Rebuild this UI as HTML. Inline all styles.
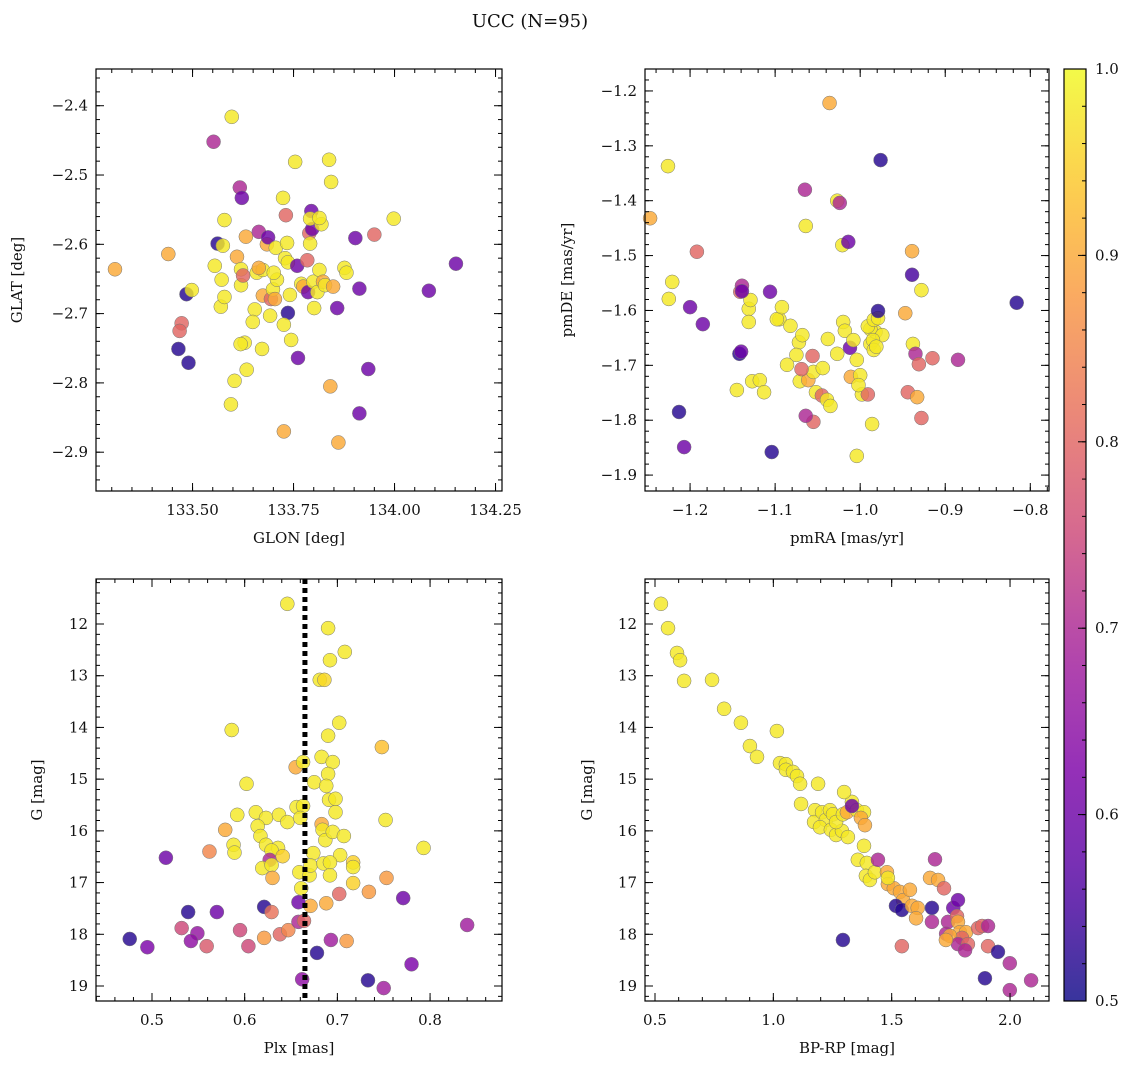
<!DOCTYPE html>
<html><head><meta charset="utf-8">
<style>
body{margin:0;background:#fff;}
svg text{font-family:"DejaVu Serif","Liberation Serif",serif;fill:#111;}
</style></head>
<body>
<svg id="fig" width="1136" height="1068" xmlns="http://www.w3.org/2000/svg">
<text x="530" y="27" font-size="18" text-anchor="middle">UCC (N=95)</text>
</svg>
<script>
// ---- data: panel 1 (GLON vs GLAT)
const glonA=[133.552,133.597,133.308,133.440,133.473,133.468,133.485,133.498,133.465,133.490,133.562,133.579,133.575,133.555,133.572,133.570,133.579,133.604,133.595,133.617,133.622,133.610,133.620,133.620,133.632,133.625,133.629,133.619,133.634,133.654,133.649,133.664,133.659,133.674,133.664,133.672,133.684,133.687,133.674,133.694,133.699,133.709,133.701,133.706,133.704,133.692,133.724,133.731,133.729,133.736,133.734,133.736,133.726,133.741,133.744,133.754,133.759,133.761,133.726,133.769,133.774,133.784,133.789,133.791,133.796,133.794,133.791,133.786,133.799,133.801,133.809,133.814,133.823,133.828,133.838,133.843,133.841,133.861,133.848,133.858,133.819,133.814,133.876,133.881,133.903,133.913,133.913,133.935,133.950,133.998,134.085,134.152];
const glatA=[-2.452,-2.416,-2.636,-2.614,-2.714,-2.725,-2.672,-2.666,-2.751,-2.771,-2.599,-2.565,-2.602,-2.631,-2.651,-2.690,-2.676,-2.797,-2.831,-2.518,-2.533,-2.618,-2.636,-2.659,-2.589,-2.645,-2.742,-2.744,-2.781,-2.694,-2.712,-2.582,-2.641,-2.637,-2.634,-2.751,-2.600,-2.590,-2.674,-2.679,-2.665,-2.651,-2.641,-2.605,-2.679,-2.703,-2.533,-2.558,-2.620,-2.626,-2.598,-2.699,-2.716,-2.673,-2.738,-2.481,-2.631,-2.764,-2.870,-2.657,-2.661,-2.623,-2.584,-2.599,-2.578,-2.552,-2.563,-2.669,-2.654,-2.692,-2.669,-2.637,-2.654,-2.659,-2.478,-2.510,-2.805,-2.886,-2.661,-2.692,-2.571,-2.562,-2.634,-2.641,-2.591,-2.664,-2.844,-2.780,-2.586,-2.563,-2.667,-2.628];
const probA=[0.7,0.98,0.9,0.9,0.8,0.8,0.52,0.98,0.52,0.52,0.52,0.98,0.98,0.98,0.98,0.98,0.98,0.98,0.98,0.7,0.6,0.9,0.98,0.98,0.9,0.8,0.98,0.98,0.98,0.98,0.98,0.7,0.98,0.98,0.9,0.98,0.9,0.6,0.9,0.8,0.98,0.98,0.98,0.98,0.9,0.98,0.98,0.8,0.98,0.98,0.98,0.52,0.98,0.98,0.98,0.98,0.6,0.6,0.9,0.98,0.9,0.8,0.8,0.98,0.6,0.6,0.98,0.6,0.98,0.98,0.98,0.98,0.9,0.98,0.98,0.98,0.9,0.9,0.9,0.6,0.98,0.98,0.98,0.98,0.6,0.6,0.6,0.6,0.8,0.98,0.6,0.6];
// ---- data: panel 2 (pmRA vs pmDE)
const pmraB=[-1.247,-1.226,-1.221,-1.225,-1.213,-1.207,-1.200,-1.192,-1.185,-1.141,-1.139,-1.131,-1.129,-1.131,-1.139,-1.106,-1.142,-1.145,-1.140,-1.127,-1.118,-1.113,-1.104,-1.095,-1.098,-1.092,-1.082,-1.072,-1.075,-1.068,-1.086,-1.071,-1.061,-1.055,-1.052,-1.045,-1.039,-1.035,-1.055,-1.064,-1.069,-1.056,-1.065,-1.064,-1.044,-1.038,-1.027,-1.027,-1.024,-1.021,-1.014,-1.020,-1.018,-1.012,-1.008,-1.004,-1.011,-1.000,-0.998,-0.991,-1.002,-0.988,-0.982,-0.988,-0.991,-1.004,-0.974,-0.985,-0.984,-0.984,-0.981,-0.986,-0.979,-0.979,-1.036,-0.947,-0.939,-0.938,-0.944,-0.928,-0.928,-0.939,-0.935,-0.931,-0.933,-0.915,-0.885,-0.976,-0.816];
const pmdeB=[-1.432,-1.337,-1.548,-1.579,-1.785,-1.849,-1.594,-1.493,-1.625,-1.566,-1.555,-1.597,-1.581,-1.621,-1.565,-1.566,-1.679,-1.745,-1.675,-1.729,-1.727,-1.749,-1.858,-1.616,-1.616,-1.594,-1.628,-1.658,-1.681,-1.645,-1.699,-1.729,-1.727,-1.712,-1.749,-1.755,-1.763,-1.774,-1.803,-1.792,-1.707,-1.683,-1.380,-1.446,-1.705,-1.652,-1.679,-1.400,-1.404,-1.481,-1.475,-1.621,-1.637,-1.668,-1.654,-1.690,-1.721,-1.718,-1.753,-1.753,-1.736,-1.661,-1.639,-1.634,-1.629,-1.865,-1.645,-1.654,-1.672,-1.617,-1.666,-1.807,-1.614,-1.601,-1.222,-1.605,-1.492,-1.661,-1.749,-1.563,-1.796,-1.535,-1.679,-1.698,-1.758,-1.687,-1.690,-1.326,-1.586];
const probB=[0.9,0.98,0.98,0.98,0.52,0.6,0.6,0.8,0.6,0.8,0.7,0.98,0.98,0.98,0.6,0.6,0.52,0.98,0.6,0.98,0.98,0.98,0.52,0.98,0.98,0.98,0.98,0.98,0.98,0.98,0.98,0.98,0.9,0.98,0.98,0.8,0.98,0.98,0.8,0.7,0.8,0.8,0.7,0.98,0.98,0.98,0.98,0.98,0.7,0.98,0.6,0.98,0.98,0.6,0.98,0.98,0.9,0.98,0.98,0.8,0.98,0.98,0.98,0.98,0.98,0.98,0.98,0.98,0.98,0.98,0.98,0.98,0.98,0.52,0.9,0.9,0.9,0.98,0.8,0.98,0.8,0.55,0.7,0.8,0.9,0.8,0.7,0.52,0.52];
// ---- data: panel 3 (Plx vs G)
const plxC=[0.646,0.690,0.708,0.692,0.681,0.686,0.702,0.690,0.586,0.748,0.683,0.695,0.690,0.655,0.663,0.675,0.688,0.691,0.698,0.602,0.656,0.663,0.698,0.592,0.612,0.623,0.637,0.646,0.660,0.579,0.614,0.617,0.683,0.684,0.687,0.695,0.707,0.752,0.588,0.623,0.636,0.674,0.703,0.793,
0.515,0.562,0.589,0.629,0.627,0.641,0.619,0.629,0.630,0.659,0.670,0.671,0.661,0.671,0.658,0.685,0.692,0.692,0.717,0.717,0.717,0.688,0.702,0.734,0.753,0.771,0.840,0.539,0.570,0.621,0.629,0.532,0.549,0.542,0.559,0.595,0.604,0.621,0.638,0.647,0.658,0.664,0.476,0.495,0.678,0.693,0.710,0.780,0.733,0.750,0.662];
const gmagC=[11.61,12.08,12.54,12.70,13.08,13.08,13.91,14.16,14.05,14.38,14.57,14.67,14.90,14.77,14.67,15.06,15.13,15.40,15.38,15.09,15.54,15.52,15.64,15.69,15.64,15.75,15.69,15.83,15.75,15.98,15.91,16.10,15.87,15.98,16.18,16.02,16.10,15.79,16.27,16.27,16.33,16.43,16.47,16.33,
16.52,16.40,16.42,16.38,16.56,16.49,16.72,16.66,16.91,16.80,16.86,16.67,17.11,17.45,17.38,16.63,16.61,16.86,16.61,16.70,17.01,17.40,17.22,17.18,16.91,17.30,17.82,17.57,17.57,17.47,17.57,17.88,17.98,18.13,18.23,17.92,18.23,18.07,18.00,17.92,17.76,17.74,18.09,18.25,18.36,18.11,18.13,18.58,18.89,19.04,18.87];
const probC=[0.98,0.98,0.98,0.98,0.98,0.96,0.98,0.98,0.98,0.93,0.98,0.98,0.98,0.9,0.98,0.98,0.98,0.98,0.98,0.98,0.98,0.98,0.98,0.98,0.98,0.98,0.98,0.98,0.98,0.9,0.98,0.98,0.9,0.98,0.98,0.98,0.98,0.98,0.98,0.98,0.98,0.98,0.98,0.98,
0.6,0.85,0.98,0.98,0.7,0.95,0.98,0.98,0.9,0.98,0.98,0.98,0.98,0.9,0.6,0.98,0.98,0.98,0.95,0.98,0.95,0.9,0.8,0.88,0.88,0.6,0.68,0.52,0.6,0.52,0.82,0.75,0.66,0.65,0.78,0.75,0.75,0.88,0.8,0.85,0.7,0.8,0.52,0.62,0.52,0.68,0.88,0.62,0.52,0.68,0.65];
// ---- data: panel 4 (BP-RP vs G)
const bprpD=[0.525,0.555,0.593,0.606,0.623,0.741,0.792,0.863,0.901,0.931,1.015,1.028,1.053,1.053,1.083,1.100,1.113,1.189,1.117,1.176,1.172,1.206,1.222,1.239,1.197,1.243,1.265,1.290,1.315,1.252,1.265,1.294,1.311,1.332,1.299,1.353,1.383,1.332,1.370,1.387,1.383,1.357,1.395,1.391,1.408,1.429,1.442,1.480,1.484,1.509,1.535,1.548,1.518,1.543,1.484,1.586,1.610,1.577,1.603,1.543,1.294,1.683,1.662,1.696,1.670,1.721,1.760,1.780,1.670,1.738,1.730,1.776,1.780,1.788,1.814,1.797,1.746,1.780,1.729,1.822,1.810,1.865,1.882,1.907,1.907,1.949,1.894,1.999,1.999,2.089];
const gmagD=[11.61,12.08,12.56,12.70,13.10,13.08,13.64,13.91,14.36,14.57,14.07,14.69,14.71,14.82,14.86,14.94,15.09,15.09,15.48,15.60,15.83,15.64,15.79,15.60,15.93,15.98,16.08,16.00,16.12,15.68,15.83,15.68,15.64,15.44,15.25,15.60,15.64,15.52,15.75,15.89,16.29,16.56,16.62,16.87,16.95,16.80,16.56,16.80,17.03,17.11,17.18,17.34,17.45,17.53,16.91,17.45,17.49,17.14,17.69,18.23,18.11,16.55,16.91,16.95,17.49,17.11,17.49,17.34,17.76,17.76,17.99,17.65,17.76,17.96,17.96,18.07,18.03,18.19,18.11,18.19,18.31,17.88,17.84,17.84,18.23,18.34,18.85,18.56,19.08,18.89];
const probD=[0.98,0.98,0.98,0.98,0.98,0.98,0.98,0.98,0.98,0.98,0.98,0.98,0.98,0.98,0.98,0.98,0.98,0.98,0.98,0.98,0.98,0.98,0.98,0.98,0.98,0.98,0.98,0.98,0.98,0.98,0.98,0.98,0.9,0.98,0.98,0.98,0.98,0.6,0.9,0.9,0.98,0.98,0.98,0.98,0.98,0.98,0.7,0.9,0.9,0.9,0.9,0.9,0.52,0.52,0.98,0.9,0.9,0.9,0.9,0.8,0.52,0.7,0.9,0.9,0.52,0.8,0.6,0.6,0.7,0.7,0.7,0.8,0.9,0.9,0.9,0.8,0.9,0.7,0.9,0.8,0.7,0.8,0.8,0.7,0.8,0.52,0.52,0.7,0.7,0.7];
// ---- tick labels
const glonTicks=[133.5,133.75,134.0,134.25];
const glatTicks=[-2.4,-2.5,-2.6,-2.7,-2.8,-2.9];
const pmraTicks=[-1.2,-1.1,-1.0,-0.9,-0.8];
const pmdeTicks=[-1.2,-1.3,-1.4,-1.5,-1.6,-1.7,-1.8,-1.9];
const plxTicks=[0.5,0.6,0.7,0.8];
const gTicks=[12,13,14,15,16,17,18,19];
const bprpTicks=[0.5,1.0,1.5,2.0];
const cbarTicks=[0.5,0.6,0.7,0.8,0.9,1.0];
const plxMean=[0.665];

const NS='http://www.w3.org/2000/svg';
const svg=document.getElementById('fig');
function mk(tag,attrs,parent){const e=document.createElementNS(NS,tag);for(const k in attrs)e.setAttribute(k,attrs[k]);(parent||svg).appendChild(e);return e;}
const stops=[[0,[13,8,135]],[0.125,[84,2,163]],[0.25,[126,3,168]],[0.375,[163,30,154]],[0.5,[204,71,120]],[0.625,[230,108,92]],[0.75,[248,149,64]],[0.875,[253,196,39]],[1,[240,249,33]]];
function plasma(t){t=Math.max(0,Math.min(1,t));for(let i=1;i<stops.length;i++){if(t<=stops[i][0]){const a=stops[i-1],b=stops[i];const f=(t-a[0])/(b[0]-a[0]);const c=a[1].map((v,j)=>Math.round(v+(b[1][j]-v)*f));return `rgb(${c[0]},${c[1]},${c[2]})`;}}return 'rgb(240,249,33)';}
function pcol(p){return plasma((p-0.5)/0.5);}
function fmtMinus(v,d){const s=Math.abs(v).toFixed(d);return (v<0?'\u2212':'')+s;}

function panel(cfg){
  const {x0,x1,y0,y1,xmin,xmax,ymin,ymax,name}=cfg;
  const sx=v=>x0+(v-xmin)/(xmax-xmin)*(x1-x0);
  const sy=v=>y1-(v-ymin)/(ymax-ymin)*(y1-y0);
  const g=mk('g',{});
  
  
  const pts=mk('g',{},g);
  
  
  for(let i=0;i<cfg.xs.length;i++){
    const c=mk('circle',{cx:sx(cfg.xs[i]),cy:sy(cfg.ys[i]),r:7,fill:pcol(cfg.cs[i]),'fill-opacity':0.82,stroke:'#777','stroke-width':0.5},pts);
    
    
  }
  if(cfg.extra)cfg.extra(g,sx,sy);
  const fr=mk('rect',{x:x0,y:y0,width:x1-x0,height:y1-y0,fill:'none',stroke:'#000','stroke-width':1.2},g);
  
  
  for(let v=Math.ceil(xmin/cfg.xminor-1e-9)*cfg.xminor;v<=xmax;v+=cfg.xminor){const X=sx(v);mk('line',{x1:X,x2:X,y1:y1,y2:y1-4,stroke:'#000'},g);mk('line',{x1:X,x2:X,y1:y0,y2:y0+4,stroke:'#000'},g);}
  for(let v=Math.ceil(ymin/cfg.yminor-1e-9)*cfg.yminor;v<=ymax;v+=cfg.yminor){const Y=sy(v);mk('line',{x1:x0,x2:x0+4,y1:Y,y2:Y,stroke:'#000'},g);mk('line',{x1:x1,x2:x1-4,y1:Y,y2:Y,stroke:'#000'},g);}
  cfg.xt.forEach(v=>{const X=sx(v);mk('line',{x1:X,x2:X,y1:y1,y2:y1-8,stroke:'#000'},g);mk('line',{x1:X,x2:X,y1:y0,y2:y0+8,stroke:'#000'},g);
    const t=mk('text',{x:X,y:y1+24,'font-size':15,'text-anchor':'middle'},g);t.textContent=fmtMinus(v,cfg.xd);
    
    });
  cfg.yt.forEach(v=>{const Y=sy(v);mk('line',{x1:x0,x2:x0+8,y1:Y,y2:Y,stroke:'#000'},g);mk('line',{x1:x1,x2:x1-8,y1:Y,y2:Y,stroke:'#000'},g);
    const t=mk('text',{x:x0-8,y:Y+5,'font-size':15,'text-anchor':'end'},g);t.textContent=fmtMinus(v,cfg.yd);
    
    });
  const xl=mk('text',{x:(x0+x1)/2,y:y1+52,'font-size':15,'text-anchor':'middle'},g);xl.textContent=cfg.xlab;
  
  
  const yl=mk('text',{x:cfg.ylx,y:(y0+y1)/2,'font-size':15,'text-anchor':'middle',transform:`rotate(-90 ${cfg.ylx} ${(y0+y1)/2})`},g);yl.textContent=cfg.ylab;
  
  
}
panel({name:'glon-glat-panel',x0:96,x1:502,y0:69,y1:491,xmin:133.261,xmax:134.266,ymin:-2.956,ymax:-2.347,xs:glonA,ys:glatA,cs:probA,xt:glonTicks,yt:glatTicks,xd:2,yd:1,xminor:0.05,yminor:0.02,xlab:'GLON [deg]',ylab:'GLAT [deg]',ylx:22});
panel({name:'pm-panel',x0:645,x1:1049,y0:69,y1:491,xmin:-1.253,xmax:-0.778,ymin:-1.929,ymax:-1.160,xs:pmraB,ys:pmdeB,cs:probB,xt:pmraTicks,yt:pmdeTicks,xd:1,yd:1,xminor:0.02,yminor:0.02,xlab:'pmRA [mas/yr]',ylab:'pmDE [mas/yr]',ylx:572});
panel({name:'plx-g-panel',x0:96,x1:502,y0:579,y1:1001,xmin:0.4396,xmax:0.8776,ymin:-19.29,ymax:-11.13,xs:plxC,ys:gmagC.map(v=>-v),cs:probC,xt:plxTicks,yt:gTicks.map(v=>-v),xd:1,yd:0,xminor:0.02,yminor:0.2,xlab:'Plx [mas]',ylab:'G [mag]',ylx:42,
  extra:(g,sx,sy)=>{plxMean.forEach(v=>{const l=mk('line',{x1:sx(v),x2:sx(v),y1:579,y2:1001,stroke:'#000','stroke-width':5,'stroke-dasharray':'5 4'},g);});}});
panel({name:'cmd-panel',x0:645,x1:1049,y0:579,y1:1001,xmin:0.4578,xmax:2.1646,ymin:-19.29,ymax:-11.13,xs:bprpD,ys:gmagD.map(v=>-v),cs:probD,xt:bprpTicks,yt:gTicks.map(v=>-v),xd:1,yd:0,xminor:0.1,yminor:0.2,xlab:'BP-RP [mag]',ylab:'G [mag]',ylx:592});
document.querySelectorAll('text').forEach(t=>{if(/^\u2212(1[0-9])$/.test(t.textContent))t.textContent=t.textContent.slice(1);});
(function(){
  const x0=1064,x1=1086,y0=69,y1=1001;
  const defs=mk('defs',{});
  const lg=mk('linearGradient',{id:'cg',x1:0,y1:1,x2:0,y2:0},defs);
  for(let i=0;i<=20;i++){mk('stop',{offset:i/20,'stop-color':plasma(i/20),'stop-opacity':0.82},lg);}
  const r=mk('rect',{x:x0,y:y0,width:x1-x0,height:y1-y0,fill:'url(#cg)',stroke:'#000','stroke-width':1.2});
  
  
  const sy=v=>y1-(v-0.5)/0.5*(y1-y0);
  for(let v=0.5;v<=1.0001;v+=0.02){const Y=sy(v);mk('line',{x1:x1,x2:x1-4,y1:Y,y2:Y,stroke:'#000'});}
  cbarTicks.forEach(v=>{const Y=sy(v);mk('line',{x1:x1,x2:x1-8,y1:Y,y2:Y,stroke:'#000'});
    const t=mk('text',{x:x1+9,y:Y+5,'font-size':15});t.textContent=v.toFixed(1);
    
    });
})();
</script>
</body></html>
